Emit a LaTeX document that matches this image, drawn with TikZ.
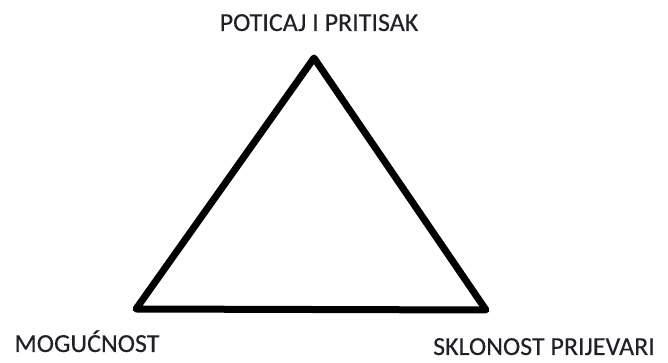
\documentclass[tikz,border=0pt]{standalone}
\usepackage{fontspec}
\setmainfont{Carlito}
\newfontfamily\lblfont[FakeBold=0.25]{Carlito}
\definecolor{labelgray}{RGB}{32,32,40}
\begin{document}
\begin{tikzpicture}[x=1pt,y=1pt,
  lbl/.style={text=labelgray,font=\lblfont\fontsize{26}{31}\selectfont,anchor=base,inner sep=0pt}]
 \useasboundingbox (0,0) rectangle (668,363);
 \coordinate (top) at (314,305);
 \coordinate (left) at (136,54);
 \coordinate (right) at (486,53);
 \draw[line width=7pt,line join=round,line cap=round] (top) -- (left) -- (right) -- cycle;
 \node[lbl] (poticaj) at (319,332) {POTICAJ I PRITISAK};
 \node[lbl] (mogucnost) at (87,11) {MOGUĆNOST};
 \node[lbl] (sklonost) at (544,8) {SKLONOST PRIJEVARI};
\end{tikzpicture}
\end{document}
